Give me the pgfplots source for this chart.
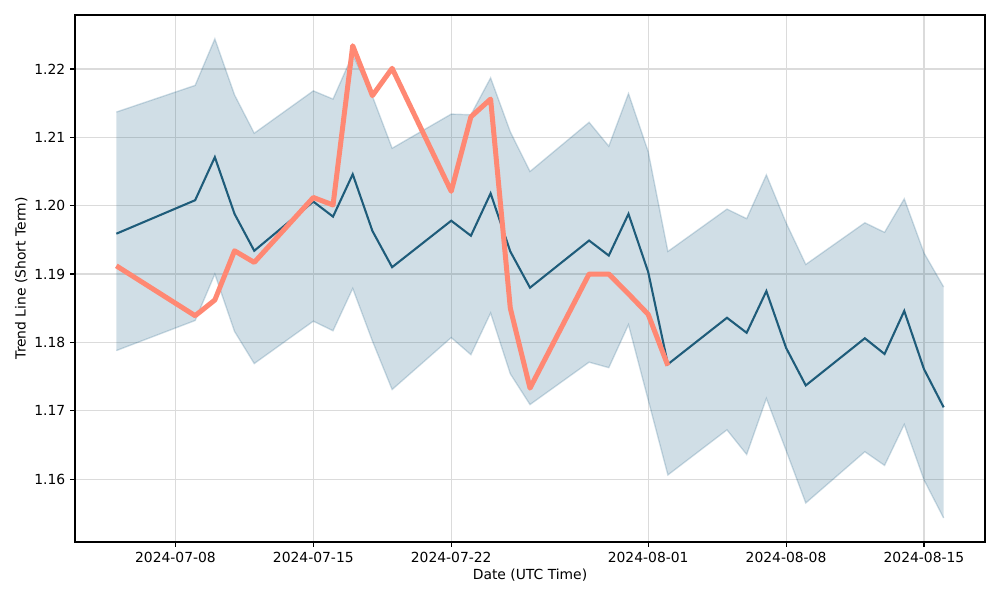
\documentclass[border=0pt]{standalone}
\usepackage{fontspec}
\setmainfont{DejaVu Sans}
\usepackage{pgfplots}
\usepackage{pgfplotstable}
\pgfplotsset{compat=1.18}
\usepgfplotslibrary{fillbetween}
\definecolor{meanc}{RGB}{30,92,122}
\definecolor{bandc}{RGB}{22,90,128}
\definecolor{trendc}{RGB}{255,136,115}
\pgfplotstableread{
d mean up lo
4 1.1959 1.2137 1.1788
8 1.2008 1.2176 1.1832
9 1.2071 1.2244 1.1900
10 1.1988 1.2162 1.1816
11 1.1934 1.2106 1.1769
14 1.2006 1.2168 1.1831
15 1.1984 1.2156 1.1817
16 1.2046 1.2221 1.1879
17 1.1963 1.2160 1.1802
18 1.1910 1.2084 1.1731
21 1.1978 1.2134 1.1807
22 1.1956 1.2133 1.1782
23 1.2018 1.2187 1.1843
24 1.1933 1.2108 1.1754
25 1.1880 1.2050 1.1709
28 1.1949 1.2122 1.1771
29 1.1927 1.2087 1.1763
30 1.1988 1.2164 1.1826
31 1.1903 1.2079 1.1716
32 1.1768 1.1933 1.1606
35 1.1836 1.1995 1.1672
36 1.1814 1.1981 1.1636
37 1.1875 1.2045 1.1718
38 1.1792 1.1975 1.1642
39 1.1737 1.1914 1.1565
42 1.1806 1.1975 1.1640
43 1.1783 1.1961 1.1620
44 1.1846 1.2010 1.1680
45 1.1761 1.1931 1.1599
46 1.1705 1.1881 1.1543
}\band
\pgfplotstableread{
d trend
4 1.1912
8 1.1839
9 1.1862
10 1.1934
11 1.1917
14 1.2012
15 1.2001
16 1.2234
17 1.2161
18 1.2201
21 1.2021
22 1.2130
23 1.2156
24 1.1850
25 1.1733
28 1.1900
29 1.1900
30 1.1871
31 1.1841
32 1.1766
}\trend
\begin{document}
\begin{tikzpicture}
\begin{axis}[
  name=ax,
  scale only axis,
  width=655.2pt, height=379.4pt,
  xmin=1.9, xmax=48.1,
  ymin=1.1508, ymax=1.2279,
  xtick={7,14,21,31,38,45},
  xticklabels={2024-07-08,2024-07-15,2024-07-22,2024-08-01,2024-08-08,2024-08-15},
  ytick={1.16,1.17,1.18,1.19,1.20,1.21,1.22},
  yticklabel style={/pgf/number format/.cd, fixed, fixed zerofill, precision=2, assume math mode=true},
  tick pos=left,
  tick align=outside,
  major tick length=3.5pt,
  every tick/.style={black, line width=0.8pt},
  axis line style={line width=0.8pt},
  grid=major,
  major grid style={black!14, line width=0.8pt},
  tick label style={font=\fontsize{10}{12}\selectfont},
  label style={font=\fontsize{10}{12}\selectfont},
  xlabel={Date (UTC Time)},
  ylabel={Trend Line (Short Term)},
  xlabel style={yshift=2pt},
  ylabel style={yshift=-2pt},
  clip=true,
]
\addplot[name path=up, bandc, draw opacity=0.2, line width=1pt] table[x=d, y=up] {\band};
\addplot[name path=lo, bandc, draw opacity=0.2, line width=1pt] table[x=d, y=lo] {\band};
\addplot[bandc, fill opacity=0.2, draw=none] fill between[of=up and lo];
\addplot[meanc, line width=1.5pt] table[x=d, y=mean] {\band};
\addplot[trendc, line width=3.6pt, line join=round] table[x=d, y=trend] {\trend};
\end{axis}
\pgfresetboundingbox
\path (ax.south west) ++(-54pt,-41.76pt) coordinate (bl);
\path (ax.north east) ++(10.8pt,10.8pt) coordinate (tr);
\useasboundingbox (bl) rectangle (tr);
\end{tikzpicture}
\end{document}
